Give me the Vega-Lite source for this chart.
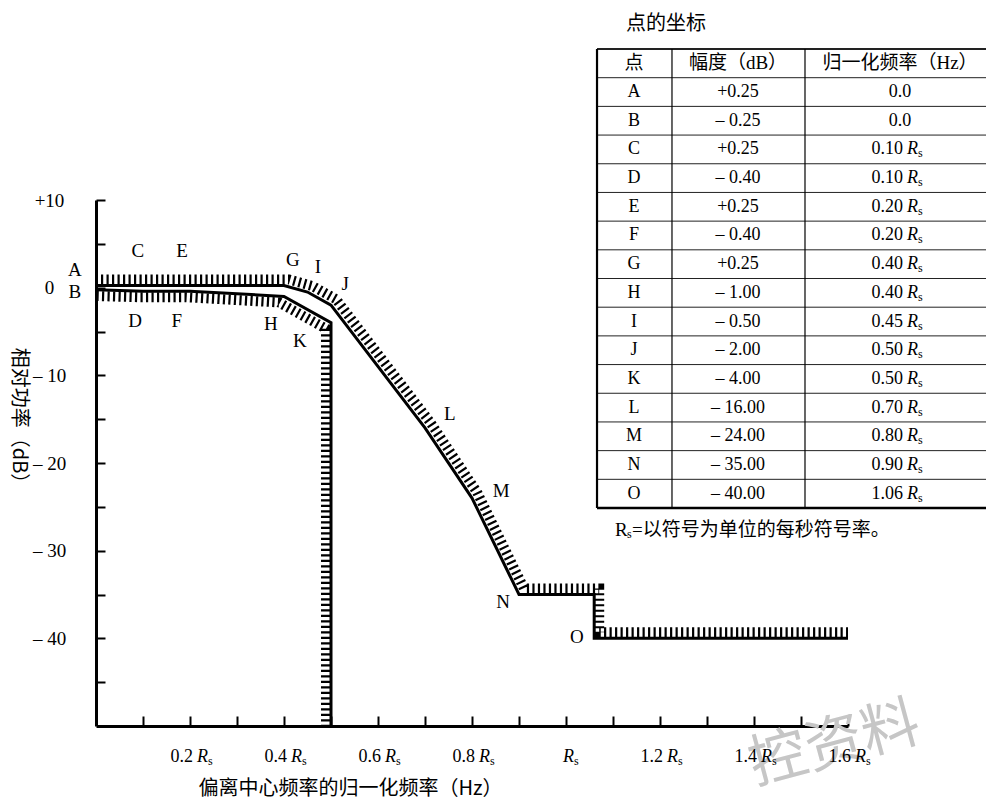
{
  "$schema": "https://vega.github.io/schema/vega-lite/v6.json",
  "width": 752,
  "height": 526,
  "autosize": {"type": "none"},
  "padding": {"left": 96, "top": 200, "right": 138, "bottom": 74},
  "background": "white",
  "config": {
    "view": {"stroke": null},
    "text": {"font": "Liberation Serif", "fontSize": 18, "color": "black"},
    "axis": {"grid": false}
  },
  "datasets": {
    "upper": [
      {"seq": 1, "f": 0, "db": 0.25},
      {"seq": 2, "f": 0.1, "db": 0.25},
      {"seq": 3, "f": 0.2, "db": 0.25},
      {"seq": 4, "f": 0.4, "db": 0.25},
      {"seq": 5, "f": 0.45, "db": -0.5},
      {"seq": 6, "f": 0.5, "db": -2},
      {"seq": 7, "f": 0.7, "db": -16},
      {"seq": 8, "f": 0.8, "db": -24},
      {"seq": 9, "f": 0.9, "db": -35},
      {"seq": 10, "f": 1.06, "db": -35},
      {"seq": 11, "f": 1.06, "db": -40},
      {"seq": 12, "f": 1.6, "db": -40}
    ],
    "lower": [
      {"seq": 1, "f": 0, "db": -0.25},
      {"seq": 2, "f": 0.1, "db": -0.4},
      {"seq": 3, "f": 0.2, "db": -0.4},
      {"seq": 4, "f": 0.4, "db": -1},
      {"seq": 5, "f": 0.5, "db": -4},
      {"seq": 6, "f": 0.5, "db": -50}
    ],
    "lbl": [
      {"name": "A", "lx": -0.045, "ly": 1.98},
      {"name": "B", "lx": -0.045, "ly": -0.52},
      {"name": "C", "lx": 0.089, "ly": 4.15},
      {"name": "E", "lx": 0.183, "ly": 4.15},
      {"name": "D", "lx": 0.083, "ly": -3.75},
      {"name": "F", "lx": 0.172, "ly": -3.75},
      {"name": "G", "lx": 0.419, "ly": 3.12},
      {"name": "I", "lx": 0.472, "ly": 2.33},
      {"name": "J", "lx": 0.53, "ly": 0.39},
      {"name": "H", "lx": 0.372, "ly": -4.17},
      {"name": "K", "lx": 0.434, "ly": -6.09},
      {"name": "L", "lx": 0.753, "ly": -14.4},
      {"name": "M", "lx": 0.862, "ly": -23.2},
      {"name": "N", "lx": 0.866, "ly": -35.9},
      {"name": "O", "lx": 1.023, "ly": -39.9}
    ],
    "xt": [
      {"v": 0.2, "num": "0.2"},
      {"v": 0.4, "num": "0.4"},
      {"v": 0.6, "num": "0.6"},
      {"v": 0.8, "num": "0.8"},
      {"v": 1.0, "num": ""},
      {"v": 1.2, "num": "1.2"},
      {"v": 1.4, "num": "1.4"},
      {"v": 1.6, "num": "1.6"}
    ],
    "tbl": [
      {"i": 0, "pt": "点", "db": "幅度（dB）", "f": "归一化频率（Hz）", "r": false},
      {"i": 1, "pt": "A", "db": "+0.25", "f": "0.0", "r": false},
      {"i": 2, "pt": "B", "db": "– 0.25", "f": "0.0", "r": false},
      {"i": 3, "pt": "C", "db": "+0.25", "f": "0.10", "r": true},
      {"i": 4, "pt": "D", "db": "– 0.40", "f": "0.10", "r": true},
      {"i": 5, "pt": "E", "db": "+0.25", "f": "0.20", "r": true},
      {"i": 6, "pt": "F", "db": "– 0.40", "f": "0.20", "r": true},
      {"i": 7, "pt": "G", "db": "+0.25", "f": "0.40", "r": true},
      {"i": 8, "pt": "H", "db": "– 1.00", "f": "0.40", "r": true},
      {"i": 9, "pt": "I", "db": "– 0.50", "f": "0.45", "r": true},
      {"i": 10, "pt": "J", "db": "– 2.00", "f": "0.50", "r": true},
      {"i": 11, "pt": "K", "db": "– 4.00", "f": "0.50", "r": true},
      {"i": 12, "pt": "L", "db": "– 16.00", "f": "0.70", "r": true},
      {"i": 13, "pt": "M", "db": "– 24.00", "f": "0.80", "r": true},
      {"i": 14, "pt": "N", "db": "– 35.00", "f": "0.90", "r": true},
      {"i": 15, "pt": "O", "db": "– 40.00", "f": "1.06", "r": true}
    ]
  },
  "layer": [
    {
      "layer": [
        {
          "data": {"values": [{"t": "控资料"}]},
          "mark": {"type": "text", "font": "Noto Sans CJK SC", "fontSize": 58, "angle": -15, "color": "#c6c6c6", "align": "center", "baseline": "middle"},
          "encoding": {
            "x": {"datum": 1.572, "type": "quantitative"},
            "y": {"datum": -52.2, "type": "quantitative"},
            "text": {"field": "t"}
          }
        },
        {
          "data": {"name": "upper"},
          "mark": {"type": "line", "color": "black", "strokeWidth": 10, "strokeDash": [2.2, 3.3], "xOffset": 5, "yOffset": -6, "clip": true},
          "encoding": {
            "x": {
              "field": "f", "type": "quantitative",
              "scale": {"domain": [0, 1.6], "nice": false, "zero": false},
              "axis": {
                "values": [0.1, 0.2, 0.3, 0.4, 0.5, 0.6, 0.7, 0.8, 0.9, 1.0, 1.1, 1.2, 1.3, 1.4, 1.5, 1.6],
                "labels": false,
                "tickSize": -10, "tickWidth": 2, "tickColor": "black",
                "domainColor": "black", "domainWidth": 3,
                "title": "偏离中心频率的归一化频率（Hz）",
                "titleFont": "Noto Sans CJK SC", "titleFontSize": 20, "titleFontWeight": "normal", "titleColor": "black",
                "titleX": 254, "titleY": 62, "titleAlign": "center", "titleBaseline": "middle"
              }
            },
            "y": {
              "field": "db", "type": "quantitative",
              "scale": {"domain": [-50, 10], "nice": false, "zero": false},
              "axis": {
                "values": [10, 5, 0, -5, -10, -15, -20, -25, -30, -35, -40, -45],
                "labelExpr": "datum.value % 10 == 0 ? (datum.value > 0 ? '+' + datum.value : (datum.value < 0 ? '– ' + abs(datum.value) : '0')) : ''",
                "labelFont": "Liberation Serif", "labelFontSize": 19, "labelColor": "black",
                "labelAlign": "center", "labelBaseline": "middle", "labelPadding": 56,
                "tickSize": -9, "tickWidth": 2, "tickColor": "black",
                "domainColor": "black", "domainWidth": 3,
                "title": "相对功率（dB）",
                "titleFont": "Noto Sans CJK SC", "titleFontSize": 20, "titleFontWeight": "normal", "titleColor": "black",
                "titleAngle": 90, "titleX": -78, "titleY": 220, "titleAlign": "center", "titleBaseline": "middle"
              }
            },
            "order": {"field": "seq"}
          }
        },
        {
          "data": {"name": "lower"},
          "mark": {"type": "line", "color": "black", "strokeWidth": 10, "strokeDash": [2.2, 3.3], "xOffset": -5, "yOffset": 6, "clip": true},
          "encoding": {
            "x": {"field": "f", "type": "quantitative"},
            "y": {"field": "db", "type": "quantitative"},
            "order": {"field": "seq"}
          }
        },
        {
          "data": {"name": "upper"},
          "mark": {"type": "line", "color": "black", "strokeWidth": 3},
          "encoding": {
            "x": {"field": "f", "type": "quantitative"},
            "y": {"field": "db", "type": "quantitative"},
            "order": {"field": "seq"}
          }
        },
        {
          "data": {"name": "lower"},
          "mark": {"type": "line", "color": "black", "strokeWidth": 3},
          "encoding": {
            "x": {"field": "f", "type": "quantitative"},
            "y": {"field": "db", "type": "quantitative"},
            "order": {"field": "seq"}
          }
        },
        {
          "data": {"name": "lbl"},
          "mark": {"type": "text", "fontSize": 19, "align": "center", "baseline": "middle"},
          "encoding": {
            "x": {"field": "lx", "type": "quantitative"},
            "y": {"field": "ly", "type": "quantitative"},
            "text": {"field": "name"}
          }
        },
        {
          "data": {"name": "xt"},
          "transform": [{"filter": "datum.num != ''"}],
          "mark": {"type": "text", "align": "right", "baseline": "middle", "dx": 3, "dy": 31},
          "encoding": {
            "x": {"field": "v", "type": "quantitative"},
            "y": {"datum": -50, "type": "quantitative"},
            "text": {"field": "num"}
          }
        },
        {
          "data": {"name": "xt"},
          "transform": [{"filter": "datum.num != ''"}],
          "mark": {"type": "text", "align": "left", "baseline": "middle", "dx": 7, "dy": 31, "fontStyle": "italic"},
          "encoding": {
            "x": {"field": "v", "type": "quantitative"},
            "y": {"datum": -50, "type": "quantitative"},
            "text": {"value": "R"}
          }
        },
        {
          "data": {"name": "xt"},
          "transform": [{"filter": "datum.num != ''"}],
          "mark": {"type": "text", "align": "left", "baseline": "middle", "dx": 18, "dy": 35, "fontSize": 12},
          "encoding": {
            "x": {"field": "v", "type": "quantitative"},
            "y": {"datum": -50, "type": "quantitative"},
            "text": {"value": "s"}
          }
        },
        {
          "data": {"name": "xt"},
          "transform": [{"filter": "datum.num == ''"}],
          "mark": {"type": "text", "align": "left", "baseline": "middle", "dx": -3, "dy": 31, "fontStyle": "italic"},
          "encoding": {
            "x": {"field": "v", "type": "quantitative"},
            "y": {"datum": -50, "type": "quantitative"},
            "text": {"value": "R"}
          }
        },
        {
          "data": {"name": "xt"},
          "transform": [{"filter": "datum.num == ''"}],
          "mark": {"type": "text", "align": "left", "baseline": "middle", "dx": 8, "dy": 35, "fontSize": 12},
          "encoding": {
            "x": {"field": "v", "type": "quantitative"},
            "y": {"datum": -50, "type": "quantitative"},
            "text": {"value": "s"}
          }
        }
      ]
    },
    {
      "layer": [
        {
          "data": {"name": "tbl"},
          "mark": {"type": "rule", "color": "#222222"},
          "encoding": {
            "x": {"datum": 1.066, "type": "quantitative"},
            "x2": {"datum": 1.913},
            "y": {"field": "i", "type": "quantitative", "scale": {"domain": [0, 16], "range": [-151, 308], "nice": false, "zero": false}, "axis": null},
            "strokeWidth": {"condition": {"test": "datum.i == 0", "value": 2}, "value": 1}
          }
        },
        {
          "data": {"values": [{}]},
          "mark": {"type": "rule", "color": "black", "strokeWidth": 2.5},
          "encoding": {
            "x": {"datum": 1.066, "type": "quantitative"},
            "x2": {"datum": 1.913},
            "y": {"datum": 16, "type": "quantitative", "axis": null}
          }
        },
        {
          "data": {"values": [{}]},
          "mark": {"type": "rule", "color": "black", "strokeWidth": 2.2},
          "encoding": {
            "x": {"datum": 1.066, "type": "quantitative"},
            "y": {"datum": 0, "type": "quantitative", "axis": null},
            "y2": {"datum": 16}
          }
        },
        {
          "data": {"values": [{}]},
          "mark": {"type": "rule", "color": "black", "strokeWidth": 1.2},
          "encoding": {
            "x": {"datum": 1.2255, "type": "quantitative"},
            "y": {"datum": 0, "type": "quantitative", "axis": null},
            "y2": {"datum": 16}
          }
        },
        {
          "data": {"values": [{}]},
          "mark": {"type": "rule", "color": "black", "strokeWidth": 1.2},
          "encoding": {
            "x": {"datum": 1.5085, "type": "quantitative"},
            "y": {"datum": 0, "type": "quantitative", "axis": null},
            "y2": {"datum": 16}
          }
        },
        {
          "data": {"name": "tbl"},
          "mark": {"type": "text", "font": "Liberation Serif, Noto Sans CJK SC", "align": "center", "baseline": "middle", "yOffset": 14.35},
          "encoding": {
            "x": {"datum": 1.1447, "type": "quantitative"},
            "y": {"field": "i", "type": "quantitative", "axis": null},
            "text": {"field": "pt"},
            "size": {"condition": {"test": "datum.i == 0", "value": 19}, "value": 18}
          }
        },
        {
          "data": {"name": "tbl"},
          "mark": {"type": "text", "font": "Liberation Serif, Noto Sans CJK SC", "align": "center", "baseline": "middle", "yOffset": 14.35},
          "encoding": {
            "x": {"datum": 1.366, "type": "quantitative"},
            "y": {"field": "i", "type": "quantitative", "axis": null},
            "text": {"field": "db"},
            "size": {"condition": {"test": "datum.i == 0", "value": 19}, "value": 18}
          }
        },
        {
          "data": {"name": "tbl"},
          "transform": [{"filter": "!datum.r"}],
          "mark": {"type": "text", "font": "Liberation Serif, Noto Sans CJK SC", "align": "center", "baseline": "middle", "yOffset": 14.35},
          "encoding": {
            "x": {"datum": 1.7106, "type": "quantitative"},
            "y": {"field": "i", "type": "quantitative", "axis": null},
            "text": {"field": "f"},
            "size": {"condition": {"test": "datum.i == 0", "value": 19}, "value": 18}
          }
        },
        {
          "data": {"name": "tbl"},
          "transform": [{"filter": "datum.r"}],
          "mark": {"type": "text", "align": "right", "baseline": "middle", "yOffset": 14.35},
          "encoding": {
            "x": {"datum": 1.717, "type": "quantitative"},
            "y": {"field": "i", "type": "quantitative", "axis": null},
            "text": {"field": "f"}
          }
        },
        {
          "data": {"name": "tbl"},
          "transform": [{"filter": "datum.r"}],
          "mark": {"type": "text", "align": "left", "baseline": "middle", "yOffset": 14.35, "dx": 4, "fontStyle": "italic"},
          "encoding": {
            "x": {"datum": 1.717, "type": "quantitative"},
            "y": {"field": "i", "type": "quantitative", "axis": null},
            "text": {"value": "R"}
          }
        },
        {
          "data": {"name": "tbl"},
          "transform": [{"filter": "datum.r"}],
          "mark": {"type": "text", "align": "left", "baseline": "middle", "yOffset": 14.35, "dx": 15, "dy": 4, "fontSize": 12},
          "encoding": {
            "x": {"datum": 1.717, "type": "quantitative"},
            "y": {"field": "i", "type": "quantitative", "axis": null},
            "text": {"value": "s"}
          }
        },
        {
          "data": {"values": [{"t": "点的坐标"}]},
          "mark": {"type": "text", "font": "Noto Sans CJK SC", "fontSize": 20, "align": "center", "baseline": "middle"},
          "encoding": {
            "x": {"datum": 1.2128, "type": "quantitative"},
            "y": {"datum": -0.87, "type": "quantitative", "axis": null},
            "text": {"field": "t"}
          }
        },
        {
          "data": {"values": [{"a": "R", "b": "s", "c": "=以符号为单位的每秒符号率。"}]},
          "layer": [
            {
              "mark": {"type": "text", "align": "left", "baseline": "middle", "fontSize": 19},
              "encoding": {
                "x": {"datum": 1.1043, "type": "quantitative"},
                "y": {"datum": 16.77, "type": "quantitative", "axis": null},
                "text": {"field": "a"}
              }
            },
            {
              "mark": {"type": "text", "align": "left", "baseline": "middle", "fontSize": 12, "dx": 12, "dy": 4},
              "encoding": {
                "x": {"datum": 1.1043, "type": "quantitative"},
                "y": {"datum": 16.77, "type": "quantitative", "axis": null},
                "text": {"field": "b"}
              }
            },
            {
              "mark": {"type": "text", "align": "left", "baseline": "middle", "fontSize": 19, "font": "Liberation Serif, Noto Sans CJK SC", "dx": 17},
              "encoding": {
                "x": {"datum": 1.1043, "type": "quantitative"},
                "y": {"datum": 16.77, "type": "quantitative", "axis": null},
                "text": {"field": "c"}
              }
            }
          ]
        }
      ]
    }
  ],
  "resolve": {"scale": {"y": "independent"}}
}
